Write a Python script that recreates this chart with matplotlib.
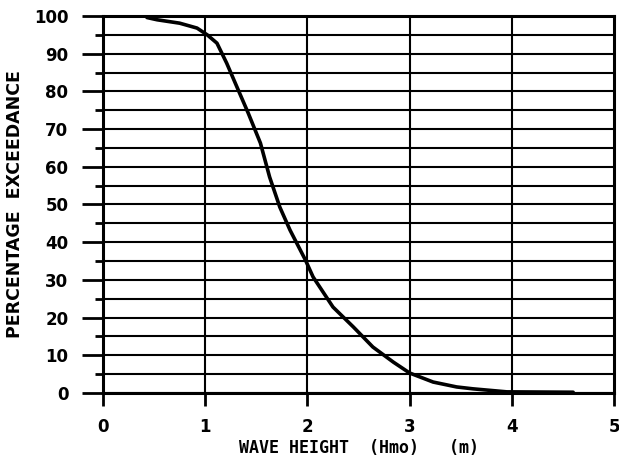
import matplotlib.pyplot as plt

# curve
wave_height = [0.43, 0.53, 0.75, 0.92, 1.02, 1.115, 1.21, 1.31, 1.42, 1.54, 1.63, 1.73, 1.83,
               1.98, 2.055, 2.25, 2.45, 2.64, 2.84, 3.00, 3.23, 3.46, 3.62, 3.95, 4.60]
exceedance = [99.6, 99.0, 98.1, 96.8, 95.0, 92.8, 87.5, 81.2, 74.3, 66.3, 57.3, 49.3, 43.2,
              35.3, 30.8, 22.8, 17.5, 12.2, 8.2, 5.3, 2.9, 1.6, 1.1, 0.3, 0.2]

xticks = [0, 1, 2, 3, 4, 5]
yticks = [0, 10, 20, 30, 40, 50, 60, 70, 80, 90, 100]
yminor = [5, 15, 25, 35, 45, 55, 65, 75, 85, 95]

fig = plt.figure(figsize=(6.19, 4.67), dpi=100)
ax = fig.add_axes([0.1664, 0.1585, 0.8256, 0.8072])

tickfont = {'family': 'DejaVu Sans', 'weight': 'bold', 'size': 12}

for y in yticks + yminor:
    ax.axhline(y, color='black', lw=1.5, zorder=1)
for x in xticks[1:-1]:
    ax.axvline(x, color='black', lw=1.5, zorder=1)

ax.plot(wave_height, exceedance, color='black', lw=2.6, zorder=3,
        solid_joinstyle='round', solid_capstyle='round')

ax.set_xlim(0, 5)
ax.set_ylim(0, 100)
for s in ax.spines.values():
    s.set_linewidth(2.2)

ax.set_xticks(xticks)
ax.set_xticklabels([str(t) for t in xticks], fontdict=tickfont)
ax.set_yticks(yticks)
ax.set_yticklabels([str(t) for t in yticks], fontdict=tickfont)
ax.set_yticks(yminor, minor=True)
ax.tick_params(axis='x', length=9, width=2, pad=9)
ax.tick_params(axis='y', which='major', length=15, width=2, pad=10)
ax.tick_params(axis='y', which='minor', length=6, width=2)

ax.set_xlabel('WAVE HEIGHT  (Hmo)   (m)', family='DejaVu Sans Mono', weight='bold',
              size=12, labelpad=2)
ax.set_ylabel('PERCENTAGE  EXCEEDANCE', family='DejaVu Sans', weight='bold',
              size=12.5, labelpad=7)

plt.savefig('out.png', dpi=100)
